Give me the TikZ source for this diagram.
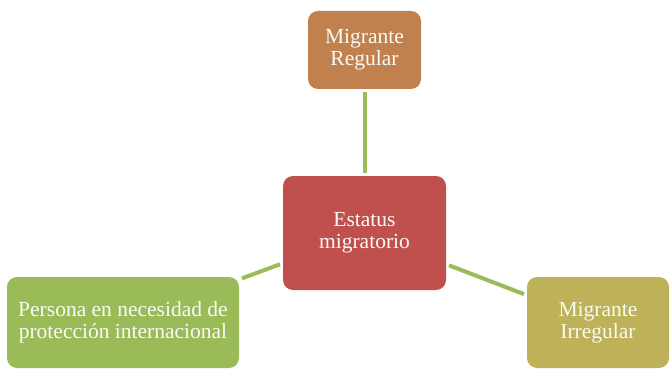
\documentclass[tikz,border=0pt]{standalone}
\usepackage{fontspec}
\setmainfont{Liberation Serif}
\definecolor{cred}{HTML}{C0504D}
\definecolor{cbrown}{HTML}{C0814F}
\definecolor{cgreen}{HTML}{9BBB59}
\definecolor{colive}{HTML}{BDB257}
\definecolor{ctext}{HTML}{FAFAF5}
\begin{document}
\begin{tikzpicture}[x=1pt,y=-1pt,
  box/.style={rounded corners=10pt, inner sep=0pt, align=center, text=ctext,
    font=\fontsize{21.5}{22}\selectfont},
  link/.style={draw=cgreen, line width=4pt, shorten <=3pt, shorten >=3pt}]
\useasboundingbox (0,0) rectangle (670,369);
\node[box, fill=cbrown, minimum width=113pt, minimum height=78pt] (top) at (364.5,50) {Migrante\\Regular};
\node[box, fill=cred, minimum width=163pt, minimum height=114pt] (mid) at (364.5,233) {Estatus\\migratorio};
\node[box, fill=cgreen, minimum width=232pt, minimum height=91pt] (left) at (123,322.5) {Persona en necesidad de\\protección internacional};
\node[box, fill=colive, minimum width=142pt, minimum height=91pt] (right) at (598,322.5) {Migrante\\Irregular};
\draw[link] (top) -- (mid);
\draw[link] (left) -- (mid);
\draw[link] (right) -- (mid);
\end{tikzpicture}
\end{document}
